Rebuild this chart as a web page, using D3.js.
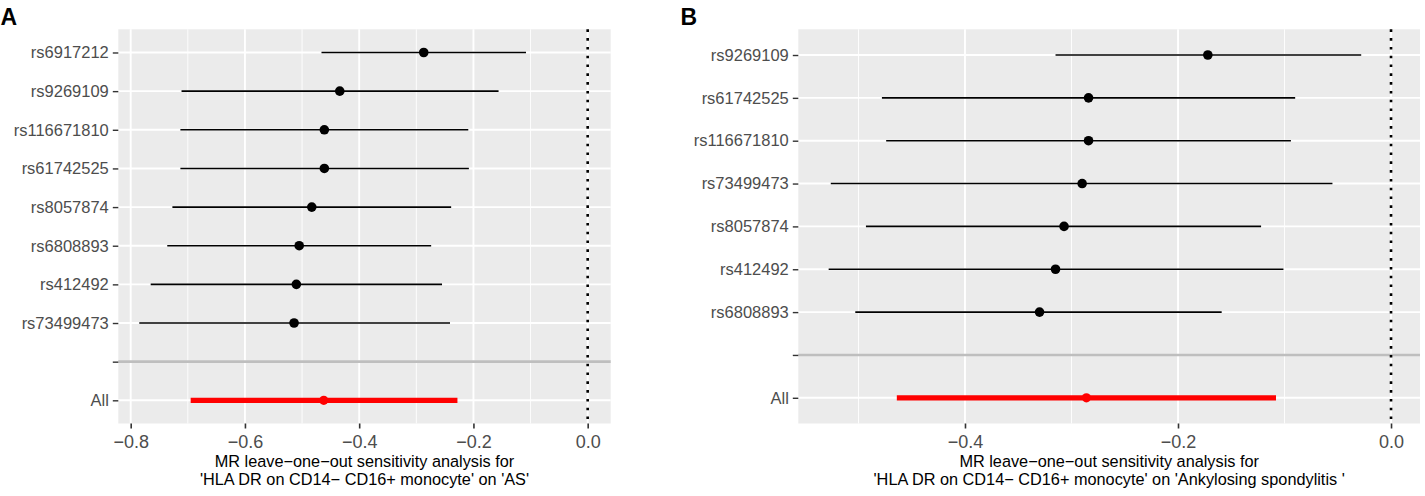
<!DOCTYPE html>
<html>
<head>
<meta charset="utf-8">
<script src="https://cdn.jsdelivr.net/npm/d3@7"></script>
<style>
  html, body { margin: 0; padding: 0; background: #ffffff; }
  svg { display: block; font-family: "Liberation Sans", Arial, Helvetica, sans-serif; }
</style>
</head>
<body>
<svg id="chart" width="1425" height="496"></svg>
<script>
// ---------- Panel A data ----------
const snpsA = ["rs6917212", "rs9269109", "rs116671810", "rs61742525", "rs8057874", "rs6808893", "rs412492", "rs73499473", "", "All"];
const betaA = [-0.287, -0.434, -0.461, -0.461, -0.483, -0.505, -0.510, -0.514, null, -0.462];
const lowA  = [-0.466, -0.711, -0.713, -0.713, -0.727, -0.736, -0.765, -0.785, null, -0.695];
const highA = [-0.108, -0.156, -0.209, -0.208, -0.239, -0.274, -0.255, -0.241, null, -0.228];
const ticksA = [-0.8, -0.6, -0.4, -0.2, 0.0];
const minorA = [-0.7, -0.5, -0.3, -0.1];
const titleA = ["MR leave\u2212one\u2212out sensitivity analysis for", "'HLA DR on CD14\u2212 CD16+ monocyte' on 'AS'"];

// ---------- Panel B data ----------
const snpsB = ["rs9269109", "rs61742525", "rs116671810", "rs73499473", "rs8057874", "rs412492", "rs6808893", "", "All"];
const betaB = [-0.172, -0.284, -0.284, -0.290, -0.307, -0.315, -0.330, null, -0.286];
const lowB  = [-0.315, -0.478, -0.474, -0.526, -0.493, -0.528, -0.503, null, -0.464];
const highB = [-0.028, -0.090, -0.094, -0.055, -0.122, -0.101, -0.159, null, -0.108];
const ticksB = [-0.4, -0.2, 0.0];
const minorB = [-0.5, -0.3, -0.1];
const titleB = ["MR leave\u2212one\u2212out sensitivity analysis for", "'HLA DR on CD14\u2212 CD16+ monocyte' on 'Ankylosing spondylitis '"];

const svg = d3.select("#chart");

function drawPanel(cfg) {
  const { letter, letterX, left, right, top, bottom, xDomain, snps, beta, low, high, ticks, minor, title } = cfg;
  const x = d3.scaleLinear().domain(xDomain).range([left, right]);
  const y = d3.scalePoint().domain(snps).range([top, bottom]).padding(0.6);

  const g = svg.append("g");

  // panel background
  g.append("rect")
    .attr("x", left).attr("y", top)
    .attr("width", right - left).attr("height", bottom - top)
    .attr("fill", "#ebebeb");

  // minor vertical gridlines
  g.selectAll("line.minor").data(minor).enter().append("line")
    .attr("x1", d => x(d)).attr("x2", d => x(d))
    .attr("y1", top).attr("y2", bottom)
    .attr("stroke", "#ffffff").attr("stroke-width", 0.9);

  // major vertical gridlines
  g.selectAll("line.majv").data(ticks).enter().append("line")
    .attr("x1", d => x(d)).attr("x2", d => x(d))
    .attr("y1", top).attr("y2", bottom)
    .attr("stroke", "#ffffff").attr("stroke-width", 1.9);

  // major horizontal gridlines
  g.selectAll("line.majh").data(snps).enter().append("line")
    .attr("x1", left).attr("x2", right)
    .attr("y1", d => y(d)).attr("y2", d => y(d))
    .attr("stroke", "#ffffff").attr("stroke-width", 1.9);

  // grey separator at the blank level
  g.append("line")
    .attr("x1", left).attr("x2", right)
    .attr("y1", y("")).attr("y2", y(""))
    .attr("stroke", "#bebebe").attr("stroke-width", 2.6);

  // dotted vertical line at 0
  g.append("line")
    .attr("x1", x(0)).attr("x2", x(0))
    .attr("y1", top).attr("y2", bottom)
    .attr("stroke", "#000000").attr("stroke-width", 2.6)
    .attr("stroke-dasharray", "2.6,6.2");

  const rows = snps.map((s, i) => ({ s, b: beta[i], lo: low[i], hi: high[i] })).filter(d => d.b !== null);

  // error bars
  g.selectAll("line.ci").data(rows).enter().append("line")
    .attr("x1", d => x(d.lo)).attr("x2", d => x(d.hi))
    .attr("y1", d => y(d.s)).attr("y2", d => y(d.s))
    .attr("stroke", d => d.s === "All" ? "#ff0000" : "#000000")
    .attr("stroke-width", d => d.s === "All" ? 5.3 : 1.6);

  // points
  g.selectAll("circle.pt").data(rows).enter().append("circle")
    .attr("cx", d => x(d.b)).attr("cy", d => y(d.s))
    .attr("r", d => d.s === "All" ? 4.6 : 4.8)
    .attr("fill", d => d.s === "All" ? "#ff0000" : "#000000");

  // y axis
  const ya = g.append("g").attr("transform", `translate(${left},0)`)
    .call(d3.axisLeft(y).tickSize(5.5).tickPadding(4));
  ya.select(".domain").remove();
  ya.selectAll(".tick line").attr("stroke", "#333333").attr("stroke-width", 1.4);
  ya.selectAll(".tick text").attr("fill", "#4d4d4d").style("font-size", "16.5px")
    .style("font-family", "'Liberation Sans', Arial, sans-serif");

  // x axis
  const xa = g.append("g").attr("transform", `translate(0,${bottom})`)
    .call(d3.axisBottom(x).tickValues(ticks).tickFormat(d3.format(".1f")).tickSize(5).tickPadding(7));
  xa.select(".domain").remove();
  xa.selectAll(".tick line").attr("stroke", "#333333").attr("stroke-width", 1.6);
  xa.selectAll(".tick text").attr("fill", "#4d4d4d").style("font-size", "18px")
    .style("font-family", "'Liberation Sans', Arial, sans-serif");

  // x title
  const cx = (left + right) / 2;
  g.selectAll("text.xtitle").data(title).enter().append("text")
    .attr("x", cx).attr("y", (d, i) => 466.5 + i * 18.5)
    .attr("text-anchor", "middle")
    .attr("fill", "#000000")
    .style("font-size", "16.3px")
    .text(d => d);

  // panel letter
  g.append("text")
    .attr("x", letterX).attr("y", 25)
    .attr("fill", "#000000")
    .style("font-size", "23px").style("font-weight", "bold")
    .text(letter);
}

drawPanel({
  letter: "A", letterX: 0.5,
  left: 118.3, right: 610.7, top: 29.3, bottom: 423.5,
  xDomain: [-0.8217, 0.0403],
  snps: snpsA, beta: betaA, low: lowA, high: highA,
  ticks: ticksA, minor: minorA, title: titleA
});

drawPanel({
  letter: "B", letterX: 680.5,
  left: 798.3, right: 1420, top: 29.3, bottom: 423.5,
  xDomain: [-0.5565, 0.0272],
  snps: snpsB, beta: betaB, low: lowB, high: highB,
  ticks: ticksB, minor: minorB, title: titleB
});
</script>
</body>
</html>
